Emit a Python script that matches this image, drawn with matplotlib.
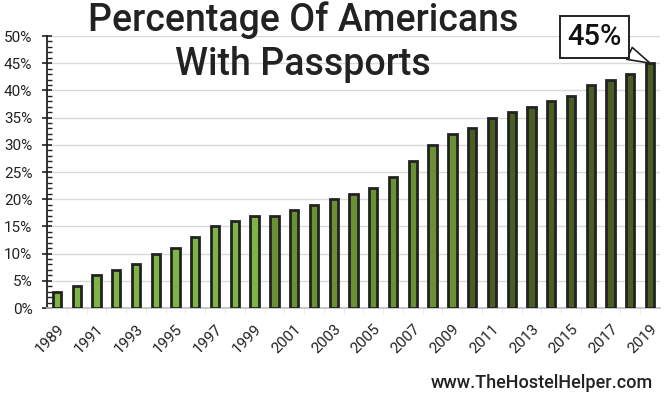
import matplotlib
matplotlib.use("Agg")
import matplotlib.pyplot as plt
from matplotlib.ticker import MultipleLocator, PercentFormatter
from matplotlib.transforms import ScaledTranslation

years = list(range(1989, 2020))
percent = [3, 4, 6, 7, 8, 10, 11, 13, 15, 16, 17,
           17, 18, 19, 20, 21, 22, 24, 27, 30, 32,
           33, 35, 36, 37, 38, 39, 41, 42, 43, 45]
title_text = "Percentage Of Americans\nWith Passports"
source_text = "www.TheHostelHelper.com"

c_light = "#7db443"
c_mid = "#6a9134"
c_dark = "#4a5e24"
colors = [c_light if y < 2000 else (c_mid if y < 2010 else c_dark) for y in years]

plt.rcParams['font.family'] = ['Roboto', 'DejaVu Sans']

fig = plt.figure(figsize=(6.66, 3.98), dpi=100)
ax = fig.add_axes([47/666, 1-308/398, (660-47)/666, (308-36)/398])

x = list(range(len(years)))
ax.bar(x, percent, width=0.42, color=colors, edgecolor="#222222", linewidth=2.0, zorder=3)

ax.set_xlim(-0.5, len(years) - 0.5)
ax.set_ylim(0, 50)
ax.yaxis.set_major_locator(MultipleLocator(5))
ax.yaxis.set_minor_locator(MultipleLocator(1))
ax.yaxis.set_major_formatter(PercentFormatter(decimals=0))
ax.grid(axis='y', color="#d9d9d9", linewidth=1.0, zorder=0)
ax.set_axisbelow(True)

ax.set_xticks(x[::2])
ax.set_xticklabels([str(y) for y in years[::2]], rotation=45, ha='right',
                   rotation_mode='anchor', fontsize=11, color="#222222")
shift = ScaledTranslation(5/100, 0, fig.dpi_scale_trans)
for lbl in ax.get_xticklabels():
    lbl.set_transform(lbl.get_transform() + shift)
ax.set_xticks([i + 0.5 for i in x[:-1]], minor=True)
ax.tick_params(axis='x', which='both', length=0, pad=10)
ax.tick_params(axis='x', which='minor', length=4, color="#e6e6e6", direction='out')
ax.tick_params(axis='y', which='major', direction='inout', length=7, width=1.2,
               color="#222222", labelsize=11, labelcolor="#222222", pad=7)
ax.tick_params(axis='y', which='minor', direction='in', length=3.5, width=1.0, color="#222222")

for s in ['top', 'right']:
    ax.spines[s].set_visible(False)
ax.spines['left'].set_color("#222222")
ax.spines['left'].set_linewidth(1.3)
ax.spines['bottom'].set_color("#bfbfbf")
ax.spines['bottom'].set_linewidth(1.2)

fig.text(303/666, 1-42/398, title_text, ha='center', va='center', fontsize=27,
         fontweight='medium', color="#222222", linespacing=1.25)

ax.annotate(f"{percent[-1]}%", xy=(x[-1], percent[-1]), xycoords='data',
            xytext=(-40, 19), textcoords='offset points', ha='center', va='center',
            fontsize=21, fontweight='medium', color="#111111",
            bbox=dict(boxstyle='square,pad=0.24', fc='white', ec='#222222', lw=1.4),
            arrowprops=dict(arrowstyle='wedge,tail_width=0.45', fc='white', ec='#222222',
                            lw=1.2, shrinkA=0, shrinkB=0),
            zorder=5)

fig.text(653/666, 1-383/398, source_text, ha='right', va='center', fontsize=13,
         fontweight='medium', color="#222222")

fig.savefig("out.png", dpi=100)
